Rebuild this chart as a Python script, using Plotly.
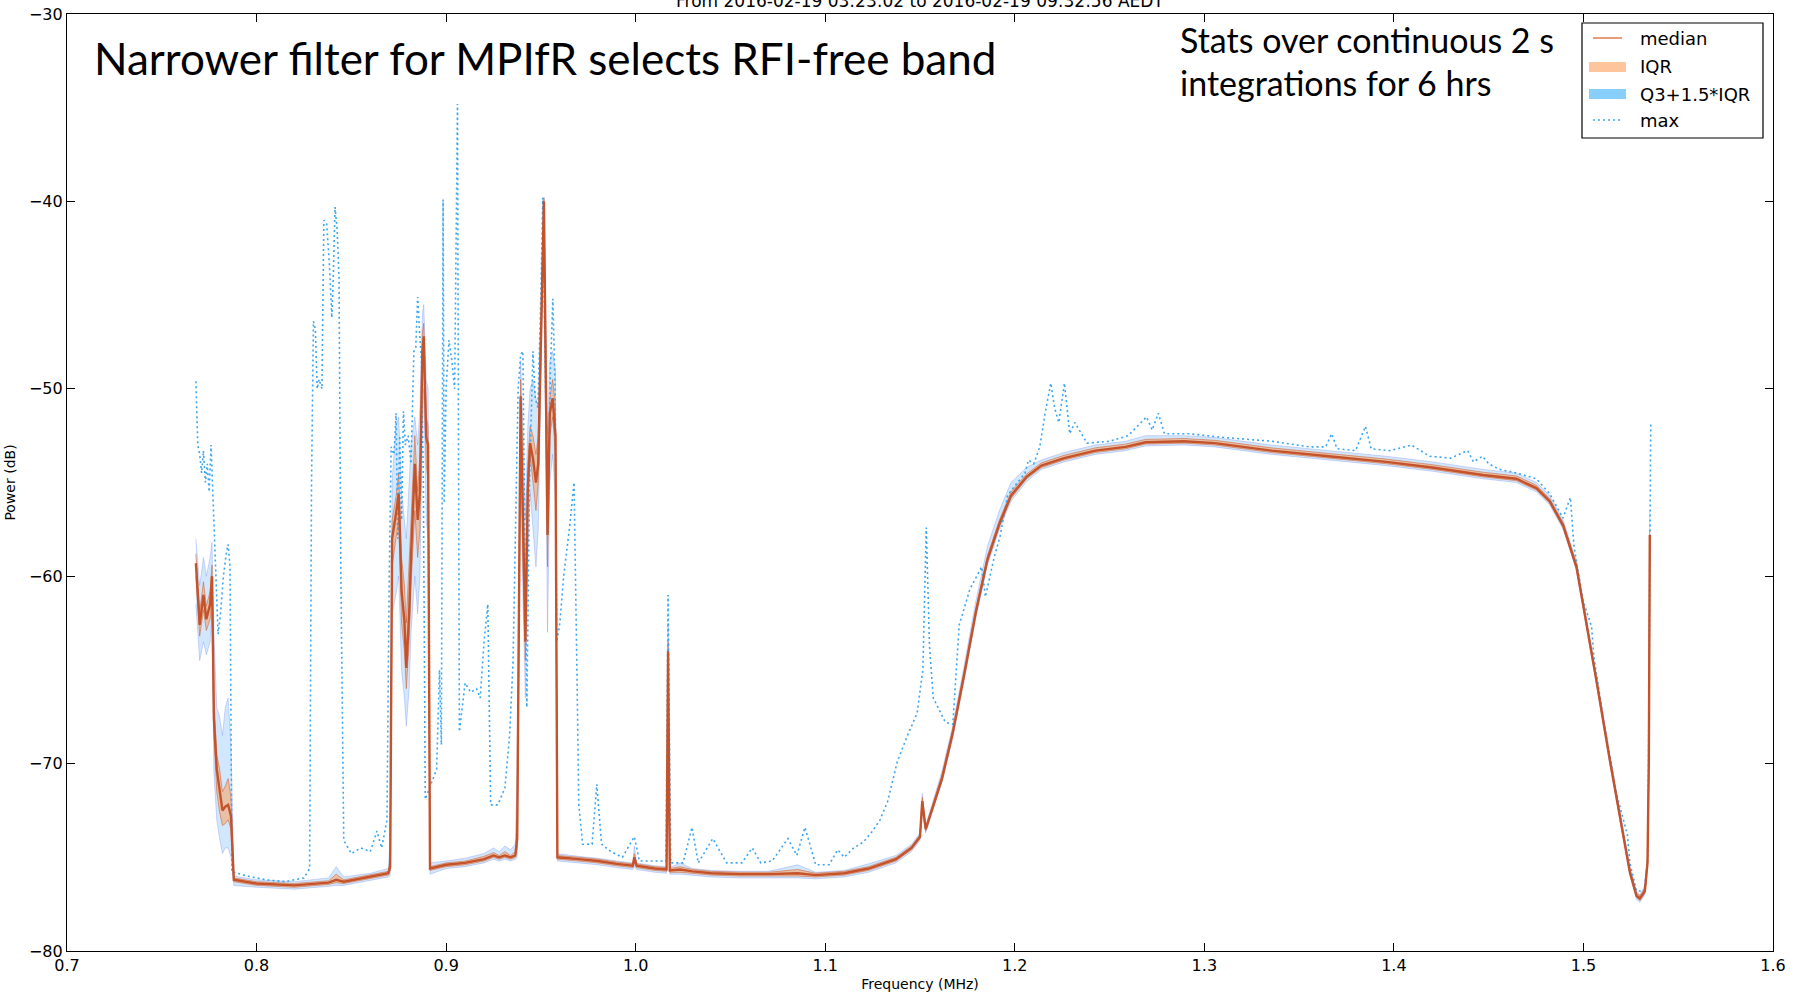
import plotly.graph_objects as go

# ---------------- data ----------------
freq_med = [0.7680, 0.7700, 0.7720, 0.7735, 0.7755, 0.7765, 0.7775, 0.7790, 0.7805, 0.7820, 0.7835, 0.7850, 0.7865, 0.7880,
            0.8000, 0.8200, 0.8380, 0.8420, 0.8460, 0.8600, 0.8695,
            0.8705, 0.8715, 0.8735, 0.8750, 0.8765, 0.8780, 0.8790, 0.8805, 0.8815, 0.8835, 0.8850, 0.8862, 0.8875, 0.8882, 0.8895, 0.8905, 0.8915,
            0.9000, 0.9100, 0.9200, 0.9250, 0.9280, 0.9310, 0.9340, 0.9365,
            0.9375, 0.9393, 0.9405, 0.9418, 0.9431, 0.9443, 0.9458, 0.9474, 0.9486, 0.9500, 0.9516, 0.9527, 0.9535, 0.9547, 0.9562, 0.9577, 0.9587,
            0.9700, 0.9800, 0.9900, 0.9985, 0.9993, 1.0005, 1.0100, 1.0163, 1.0171, 1.0180,
            1.0235, 1.0300, 1.0400, 1.0550, 1.0700, 1.0855, 1.0950, 1.1100,
            1.1228, 1.1373, 1.1455, 1.1500, 1.1512, 1.1530, 1.1616, 1.1672, 1.1734, 1.1795, 1.1856, 1.1919, 1.1980, 1.2062, 1.2140, 1.2260,
            1.2425, 1.2585, 1.2690, 1.2892, 1.3055, 1.3355, 1.3656, 1.3960, 1.4203, 1.4470, 1.4646, 1.4752, 1.4822, 1.4893, 1.4963, 1.4998,
            1.5069, 1.5139, 1.5192, 1.5245, 1.5280, 1.5298, 1.5324, 1.5338, 1.5345, 1.5350]

median = [-59.3, -62.6, -61.0, -62.3, -61.5, -60.0, -67.6, -70.3, -71.4, -72.5, -72.3, -72.2, -72.8, -76.2,
          -76.4, -76.5, -76.35, -76.2, -76.3, -76.05, -75.85,
          -75.5, -58.0, -56.7, -55.6, -60.8, -62.4, -64.9, -62.0, -58.9, -54.0, -57.0, -55.5, -48.0, -47.2, -52.6, -53.0, -75.6,
          -75.4, -75.3, -75.1, -74.9, -75.0, -74.9, -75.0, -74.9,
          -74.0, -50.4, -57.5, -63.5, -55.3, -52.9, -53.7, -55.0, -54.0, -47.7, -40.0, -50.4, -57.8, -51.3, -50.5, -52.5, -75.0,
          -75.1, -75.2, -75.35, -75.45, -75.0, -75.45, -75.6, -75.65, -64.0, -75.7,
          -75.65, -75.75, -75.85, -75.9, -75.9, -75.85, -75.95, -75.85,
          -75.6, -75.1, -74.5, -73.9, -72.0, -73.5, -70.8, -68.4, -65.2, -61.9, -59.1, -57.2, -55.7, -54.7, -54.1, -53.7,
          -53.3, -53.1, -52.85, -52.8, -52.9, -53.3, -53.6, -53.9, -54.2, -54.6, -54.8, -55.3, -56.0, -57.3, -59.5, -61.5,
          -65.6, -69.8, -72.9, -75.8, -77.05, -77.2, -76.8, -75.3, -69.8, -57.8]

q1 = [-60.0, -63.2, -61.8, -62.9, -62.3, -60.8, -68.5, -71.5, -72.6, -73.3, -73.2, -73.0, -73.5, -76.3,
      -76.5, -76.6, -76.45, -76.35, -76.4, -76.15, -75.95,
      -75.7, -59.5, -58.0, -57.0, -62.5, -64.0, -66.0, -63.5, -60.5, -56.5, -59.0, -57.5, -49.0, -48.0, -54.0, -55.0, -75.7,
      -75.5, -75.4, -75.2, -75.0, -75.1, -75.0, -75.1, -75.0,
      -74.5, -51.5, -59.0, -64.5, -56.5, -53.5, -55.0, -56.5, -55.0, -48.5, -40.5, -52.0, -59.5, -52.5, -51.5, -53.5, -75.1,
      -75.2, -75.3, -75.45, -75.55, -75.3, -75.55, -75.7, -75.75, -64.5, -75.8,
      -75.8, -75.85, -75.95, -76.0, -76.0, -76.0, -76.05, -75.95,
      -75.7, -75.2, -74.6, -74.0, -72.3, -73.6, -70.9, -68.5, -65.3, -62.0, -59.25, -57.35, -55.85, -54.8, -54.2, -53.8,
      -53.4, -53.2, -52.95, -52.9, -53.0, -53.4, -53.7, -54.0, -54.3, -54.7, -54.9, -55.4, -56.1, -57.4, -59.6, -61.6,
      -65.7, -69.9, -73.0, -75.9, -77.15, -77.3, -76.9, -75.4, -70.0, -58.2]

q3 = [-58.8, -61.9, -60.3, -61.6, -60.8, -59.4, -66.6, -69.5, -70.3, -71.5, -71.2, -70.8, -71.8, -76.1,
      -76.3, -76.4, -76.25, -75.9, -76.2, -75.95, -75.75,
      -75.0, -57.0, -55.8, -54.5, -59.0, -60.5, -62.5, -59.5, -57.0, -52.5, -55.5, -53.5, -47.0, -46.5, -51.5, -52.0, -75.5,
      -75.3, -75.2, -74.95, -74.75, -74.9, -74.7, -74.9, -74.7,
      -73.0, -49.5, -55.5, -61.0, -54.0, -52.0, -52.5, -53.5, -52.5, -47.0, -39.8, -49.0, -56.0, -50.5, -49.5, -51.0, -74.9,
      -75.0, -75.1, -75.25, -75.35, -74.8, -75.35, -75.5, -75.55, -63.5, -75.6,
      -75.5, -75.65, -75.75, -75.8, -75.8, -75.65, -75.85, -75.75,
      -75.5, -75.0, -74.4, -73.8, -71.8, -73.4, -70.6, -68.2, -65.0, -61.7, -58.9, -57.0, -55.5, -54.55, -53.95, -53.55,
      -53.15, -52.95, -52.7, -52.65, -52.75, -53.15, -53.45, -53.75, -54.05, -54.45, -54.65, -55.15, -55.85, -57.15, -59.35, -61.35,
      -65.45, -69.65, -72.75, -75.65, -76.9, -77.05, -76.65, -75.1, -69.5, -57.5]

whisk_lo = [-61.5, -64.5, -63.5, -64.2, -63.5, -62.0, -70.5, -73.0, -74.0, -74.8, -74.5, -74.5, -75.0, -76.5,
            -76.6, -76.7, -76.55, -76.5, -76.5, -76.25, -76.05,
            -76.0, -62.0, -61.0, -60.0, -65.0, -66.5, -68.0, -66.0, -63.0, -60.0, -62.0, -60.0, -52.0, -50.0, -57.0, -58.0, -75.9,
            -75.6, -75.5, -75.3, -75.1, -75.2, -75.1, -75.2, -75.1,
            -75.0, -53.5, -61.0, -66.5, -59.0, -55.5, -57.5, -59.5, -57.5, -50.0, -41.0, -55.0, -63.0, -55.0, -53.5, -56.0, -75.2,
            -75.3, -75.4, -75.55, -75.65, -75.5, -75.65, -75.8, -75.85, -65.0, -75.9,
            -75.9, -75.95, -76.05, -76.1, -76.1, -76.1, -76.15, -76.05,
            -75.8, -75.3, -74.7, -74.1, -72.6, -73.7, -71.0, -68.7, -65.5, -62.2, -59.4, -57.5, -56.0, -54.95, -54.3, -53.9,
            -53.5, -53.3, -53.05, -53.0, -53.1, -53.5, -53.8, -54.1, -54.4, -54.8, -55.0, -55.5, -56.2, -57.5, -59.7, -61.7,
            -65.8, -70.0, -73.1, -76.0, -77.25, -77.4, -77.0, -75.5, -70.5, -58.5]

whisk_hi = [-58.0, -60.5, -59.0, -60.0, -59.0, -58.2, -63.0, -67.0, -67.5, -68.5, -67.0, -66.5, -69.0, -76.0,
            -76.2, -76.3, -76.1, -75.5, -76.05, -75.85, -75.6,
            -74.0, -55.0, -52.0, -51.5, -55.5, -57.0, -58.0, -55.0, -53.0, -51.5, -53.0, -51.0, -46.0, -45.5, -49.5, -50.0, -75.3,
            -75.2, -75.05, -74.8, -74.5, -74.7, -74.4, -74.6, -74.3,
            -70.0, -48.5, -52.0, -57.0, -52.0, -50.0, -49.5, -50.5, -51.0, -45.5, -39.8, -47.0, -52.5, -48.5, -48.0, -49.0, -74.8,
            -74.95, -75.05, -75.2, -75.3, -74.4, -75.3, -75.45, -75.5, -62.5, -75.55,
            -75.3, -75.6, -75.7, -75.75, -75.75, -75.4, -75.8, -75.7,
            -75.35, -74.9, -74.3, -73.7, -71.6, -73.3, -70.4, -68.0, -64.7, -61.3, -58.4, -56.5, -55.0, -54.2, -53.8, -53.4,
            -53.0, -52.8, -52.5, -52.5, -52.6, -53.0, -53.3, -53.6, -53.9, -54.3, -54.5, -55.0, -55.7, -57.0, -59.2, -61.2,
            -65.3, -69.5, -72.6, -75.5, -76.8, -77.0, -76.5, -74.9, -69.0, -56.5]

freq_max = [0.7680, 0.7690, 0.7700, 0.7710, 0.7720, 0.7730, 0.7740, 0.7750, 0.7760, 0.7770, 0.7790, 0.7797, 0.7810, 0.7825,
            0.7840, 0.7850, 0.7860, 0.7870,
            0.7880, 0.7950, 0.8050, 0.8150, 0.8250, 0.8280, 0.8290, 0.8300, 0.8310, 0.8320, 0.8330, 0.8345, 0.8355, 0.8370,
            0.8385, 0.8397, 0.8405, 0.8414, 0.8425, 0.8435, 0.8445, 0.8460, 0.8500, 0.8550, 0.8600, 0.8635, 0.8660, 0.8688,
            0.8700, 0.8710, 0.8725, 0.8736, 0.8745, 0.8755, 0.8765, 0.8775, 0.8785, 0.8800, 0.8815, 0.8830, 0.8840, 0.8850,
            0.8860, 0.8870, 0.8880, 0.8890, 0.8920, 0.8950, 0.8965, 0.8975, 0.8984, 0.8990, 0.9000, 0.9015, 0.9030, 0.9045,
            0.9060, 0.9070, 0.9100, 0.9130, 0.9160, 0.9180, 0.9200, 0.9220, 0.9235, 0.9273, 0.9310, 0.9335, 0.9353, 0.9365,
            0.9380, 0.9393, 0.9405, 0.9415, 0.9426, 0.9440, 0.9458, 0.9470, 0.9484, 0.9500, 0.9510, 0.9520, 0.9537, 0.9550,
            0.9563, 0.9575, 0.9584, 0.9600, 0.9620, 0.9650, 0.9675, 0.9690, 0.9700, 0.9720, 0.9770, 0.9795, 0.9820, 0.9870,
            0.9930, 0.9993, 1.0020, 1.0100, 1.0160, 1.0171, 1.0185, 1.0250, 1.0297, 1.0330, 1.0360, 1.0407, 1.0440, 1.0480,
            1.0560, 1.0615, 1.0660, 1.0720, 1.0803, 1.0850, 1.0893, 1.0950, 1.1020, 1.1066, 1.1100, 1.1150, 1.1200, 1.1250,
            1.1289, 1.1330, 1.1380, 1.1430, 1.1485, 1.1515, 1.1533, 1.1550, 1.1570, 1.1634, 1.1673, 1.1690, 1.1707, 1.1763,
            1.1825, 1.1845, 1.1891, 1.1922, 1.1962, 1.1999, 1.2054, 1.2072, 1.2100, 1.2132, 1.2160, 1.2190, 1.2210, 1.2232,
            1.2262, 1.2290, 1.2317, 1.2381, 1.2500, 1.2598, 1.2695, 1.2725, 1.2757, 1.2790, 1.2918, 1.3107, 1.3355, 1.3555,
            1.3640, 1.3672, 1.3700, 1.3798, 1.3850, 1.3880, 1.3978, 1.4092, 1.4189, 1.4300, 1.4389, 1.4420, 1.4468, 1.4500,
            1.4557, 1.4650, 1.4751, 1.4822, 1.4892, 1.4931, 1.4950, 1.4998, 1.5043, 1.5055, 1.5105, 1.5174, 1.5232, 1.5245,
            1.5280, 1.5320, 1.5340, 1.5355]

max_power = [-49.6, -53.0, -53.5, -54.5, -53.3, -55.0, -54.0, -55.5, -53.0, -55.8, -61.5, -63.1, -62.0, -60.0,
             -58.8, -58.3, -59.5, -75.8,
             -75.8, -76.0, -76.2, -76.3, -76.1, -75.6, -55.0, -46.4, -46.8, -50.0, -49.5, -50.0, -41.0, -41.2,
             -43.5, -46.2, -44.0, -40.3, -41.5, -44.0, -60.0, -74.1, -74.8, -74.5, -74.7, -73.6, -74.5, -73.0,
             -60.0, -53.1, -53.5, -51.3, -58.0, -52.5, -57.0, -51.2, -53.0, -52.5, -54.0, -48.0, -47.8, -45.1,
             -47.0, -48.5, -55.0, -71.9, -71.1, -70.3, -65.0, -69.0, -39.9, -56.1, -50.0, -47.4, -48.5, -50.0,
             -34.8, -68.3, -65.7, -66.2, -66.0, -66.5, -63.5, -61.5, -72.2, -72.2, -71.3, -68.5, -64.6, -58.9,
             -50.0, -48.2, -48.0, -58.0, -67.0, -55.0, -48.0, -50.5, -51.0, -45.0, -39.8, -47.0, -57.8, -49.0,
             -45.2, -50.0, -63.5, -62.5, -60.0, -57.5, -55.0, -65.0, -72.2, -74.3, -74.3, -71.1, -74.3, -74.7,
             -75.0, -73.9, -75.2, -75.2, -75.2, -61.0, -75.3, -75.3, -73.4, -75.3, -74.8, -74.0, -74.6, -75.3,
             -75.3, -74.5, -75.3, -75.2, -74.0, -74.9, -73.4, -75.4, -75.4, -74.6, -75.0, -74.5, -74.2, -73.6,
             -73.0, -72.0, -69.9, -68.6, -67.3, -65.0, -57.4, -63.7, -66.5, -67.8, -67.9, -65.5, -62.6, -60.7,
             -59.5, -61.1, -59.0, -57.9, -55.7, -55.2, -54.5, -53.8, -54.0, -53.1, -51.3, -49.7, -51.0, -51.8,
             -49.7, -52.4, -51.8, -52.9, -52.8, -52.5, -51.5, -52.2, -51.3, -52.4, -52.4, -52.6, -52.8, -53.1,
             -53.1, -52.4, -53.2, -53.3, -52.0, -53.2, -53.3, -53.0, -53.6, -53.7, -53.3, -53.9, -53.6, -54.0,
             -54.3, -54.5, -54.8, -55.6, -56.9, -55.8, -58.4, -61.3, -62.7, -64.3, -67.6, -71.6, -73.8, -75.3,
             -76.8, -76.8, -75.0, -51.9]

x_ticks = [0.7, 0.8, 0.9, 1.0, 1.1, 1.2, 1.3, 1.4, 1.5, 1.6]
x_tick_labels = ["0.7", "0.8", "0.9", "1.0", "1.1", "1.2", "1.3", "1.4", "1.5", "1.6"]
y_ticks = [-80, -70, -60, -50, -40, -30]
y_tick_labels = ["\u221280", "\u221270", "\u221260", "\u221250", "\u221240", "\u221230"]

legend_labels = ["median", "IQR", "Q3+1.5*IQR", "max"]
title_text = "From 2016-02-19 03:23:02 to 2016-02-19 09:32:56 AEDT"
headline = "Narrower filter for MPIfR selects RFI-free band"
note_lines = ["Stats over continuous 2 s", "integrations for 6 hrs"]

# ---------------- styles ----------------
MED_COLOR = "#c4532b"
IQR_FILL = "rgba(252,160,95,0.55)"
IQR_EDGE = "rgba(205,95,55,0.55)"
BAND_FILL = "rgba(140,195,250,0.40)"
BAND_EDGE = "rgba(110,125,230,0.30)"
MAX_COLOR = "#39a6f2"

# page geometry (pixels)
W, H = 1796, 993
ML, MR, MT, MB = 67, 23, 14, 42
PW, PH = W - ML - MR, H - MT - MB


def px(X):
    return (X - ML) / PW


def py(Y):
    return (H - MB - Y) / PH


fig = go.Figure()

fig.add_trace(go.Scatter(x=freq_med, y=whisk_lo, mode="lines",
                         line=dict(color=BAND_EDGE, width=1), hoverinfo="skip"))
fig.add_trace(go.Scatter(x=freq_med, y=whisk_hi, mode="lines", fill="tonexty", fillcolor=BAND_FILL,
                         line=dict(color=BAND_EDGE, width=1), hoverinfo="skip"))
fig.add_trace(go.Scatter(x=freq_med, y=q1, mode="lines",
                         line=dict(color=IQR_EDGE, width=1), hoverinfo="skip"))
fig.add_trace(go.Scatter(x=freq_med, y=q3, mode="lines", fill="tonexty", fillcolor=IQR_FILL,
                         line=dict(color=IQR_EDGE, width=1), hoverinfo="skip"))
fig.add_trace(go.Scatter(x=freq_max, y=max_power, mode="lines", name="max",
                         line=dict(color=MAX_COLOR, width=1.6, dash="2px,3px")))
fig.add_trace(go.Scatter(x=freq_med, y=median, mode="lines", name="median",
                         line=dict(color=MED_COLOR, width=2.4)))

axis_common = dict(showline=True, linecolor="black", linewidth=1.2, mirror="ticks",
                   ticks="inside", ticklen=8, tickwidth=1, tickcolor="black",
                   showgrid=False, zeroline=False, automargin=False,
                   tickfont=dict(family="DejaVu Sans", size=16, color="black"))

# manual legend (box, keys, labels)
shapes = [
    dict(type="rect", xref="paper", yref="paper", x0=px(1582), x1=px(1763), y0=py(138), y1=py(23),
         line=dict(color="black", width=1.2), fillcolor="white", layer="above"),
    dict(type="line", xref="paper", yref="paper", x0=px(1593), x1=px(1622), y0=py(38), y1=py(38),
         line=dict(color="#e07a55", width=1.5), layer="above"),
    dict(type="rect", xref="paper", yref="paper", x0=px(1589), x1=px(1626), y0=py(72), y1=py(62),
         line=dict(width=0), fillcolor="#fdc59c", layer="above"),
    dict(type="rect", xref="paper", yref="paper", x0=px(1589), x1=px(1626), y0=py(99), y1=py(89),
         line=dict(width=0), fillcolor="#87cefa", layer="above"),
    dict(type="line", xref="paper", yref="paper", x0=px(1593), x1=px(1622), y0=py(120), y1=py(120),
         line=dict(color=MAX_COLOR, width=1.5, dash="2px,3px"), layer="above"),
]
legend_y = [38, 66.5, 94, 120.5]

annotations = [
    dict(text=title_text, xref="paper", yref="paper", x=0.5, y=py(13.5), xanchor="center", yanchor="bottom",
         showarrow=False, font=dict(family="DejaVu Sans", size=17, color="black")),
    dict(text=headline, xref="paper", yref="paper", x=px(92), y=py(58.5), xanchor="left", yanchor="middle",
         showarrow=False, font=dict(family="Lato", size=44, color="black")),
    dict(text=note_lines[0], xref="paper", yref="paper", x=px(1178), y=py(39), xanchor="left", yanchor="middle",
         showarrow=False, font=dict(family="Lato", size=34, color="black")),
    dict(text=note_lines[1], xref="paper", yref="paper", x=px(1178), y=py(82), xanchor="left", yanchor="middle",
         showarrow=False, font=dict(family="Lato", size=34, color="black")),
]
for lab, ly in zip(legend_labels, legend_y):
    annotations.append(dict(text=lab, xref="paper", yref="paper", x=px(1638), y=py(ly),
                            xanchor="left", yanchor="middle", showarrow=False,
                            font=dict(family="DejaVu Sans", size=18, color="black")))

fig.update_layout(
    width=W, height=H,
    margin=dict(l=ML, r=MR, t=MT, b=MB, autoexpand=False),
    paper_bgcolor="white", plot_bgcolor="white",
    showlegend=False,
    xaxis=dict(range=[0.7, 1.6], tickvals=x_ticks, ticktext=x_tick_labels,
               title=dict(text="Frequency (MHz)", font=dict(family="DejaVu Sans", size=14, color="black"), standoff=4),
               **axis_common),
    yaxis=dict(range=[-80, -30], tickvals=y_ticks, ticktext=y_tick_labels,
               title=dict(text="Power (dB)", font=dict(family="DejaVu Sans", size=14, color="black"), standoff=10),
               **axis_common),
    shapes=shapes,
    annotations=annotations,
)

fig.write_html("out.html")
